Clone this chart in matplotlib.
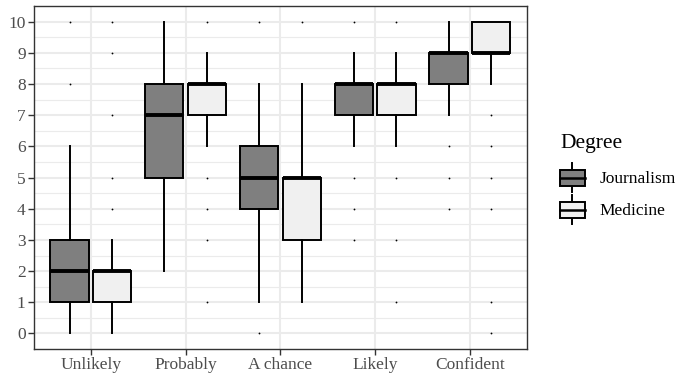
import matplotlib.pyplot as plt
import numpy as np
from matplotlib.legend_handler import HandlerBase
from matplotlib.lines import Line2D
from matplotlib.patches import Patch, Rectangle

# Data (five-number summaries + outliers)
categories = ["Unlikely", "Probably", "A chance", "Likely", "Confident"]
groups = ["Journalism", "Medicine"]

journ_lo = [0, 2, 1, 6, 7]
journ_q1 = [1, 5, 4, 7, 8]
journ_med = [2, 7, 5, 8, 9]
journ_q3 = [3, 8, 6, 8, 9]
journ_hi = [6, 10, 8, 9, 10]
journ_out = [[8, 10], [], [0, 10], [3, 4, 5, 10], [4, 5, 6]]

med_lo = [0, 6, 1, 6, 8]
med_q1 = [1, 7, 3, 7, 9]
med_med = [2, 8, 5, 8, 9]
med_q3 = [2, 8, 5, 8, 10]
med_hi = [3, 9, 8, 9, 10]
med_out = [[4, 5, 7, 9, 10], [1, 3, 4, 5, 10], [10], [1, 3, 5, 10], [0, 1, 4, 5, 6, 7]]

fills = ["#7f7f7f", "#f0f0f0"]

plt.rcParams["font.family"] = ["Liberation Serif", "DejaVu Serif"]


def make_stats(lo, q1, med, q3, hi, out):
    return [
        {"whislo": a, "q1": b, "med": c, "q3": d, "whishi": e, "fliers": f}
        for a, b, c, d, e, f in zip(lo, q1, med, q3, hi, out)
    ]


class BoxKeyHandler(HandlerBase):
    """Legend key that looks like a little ggplot boxplot."""

    def create_artists(self, legend, orig_handle, xdescent, ydescent,
                       width, height, fontsize, trans):
        x0, y0 = -xdescent, -ydescent
        bh = height * 0.56
        by = y0 + (height - bh) / 2
        cx = x0 + width / 2
        whisk = Line2D([cx, cx], [y0, y0 + height], color="black", lw=1.4,
                       transform=trans)
        rect = Rectangle((x0, by), width, bh, facecolor=orig_handle.get_facecolor(),
                         edgecolor="black", lw=1.4, transform=trans)
        mid = Line2D([x0, x0 + width], [by + bh / 2] * 2, color="black", lw=1.8,
                     transform=trans)
        return [whisk, rect, mid]


fig = plt.figure(figsize=(6.85, 3.84), dpi=100)
ax = fig.add_axes([0.0496, 0.091, 0.7194, 0.893])

x = np.arange(1, len(categories) + 1)
stats_all = [
    make_stats(journ_lo, journ_q1, journ_med, journ_q3, journ_hi, journ_out),
    make_stats(med_lo, med_q1, med_med, med_q3, med_hi, med_out),
]
offsets = [-0.225, 0.225]

for stats, off, fc in zip(stats_all, offsets, fills):
    ax.bxp(
        stats,
        positions=x + off,
        widths=0.405,
        showcaps=False,
        patch_artist=True,
        boxprops=dict(facecolor=fc, edgecolor="black", linewidth=1.4),
        whiskerprops=dict(color="black", linewidth=1.4),
        medianprops=dict(color="black", linewidth=2.8, solid_capstyle="butt"),
        flierprops=dict(marker="o", markersize=1.3, markerfacecolor="black",
                        markeredgecolor="black", markeredgewidth=0),
        zorder=3,
    )

# theme_bw-like styling
ax.set_xlim(0.4, 5.6)
ax.set_ylim(-0.5, 10.5)
ax.set_xticks(x)
ax.set_xticklabels(categories)
ax.set_yticks(range(0, 11))
ax.set_yticks(np.arange(0.5, 10.5, 1), minor=True)
ax.tick_params(axis="both", which="major", labelsize=12.5, labelcolor="#4d4d4d",
               color="#333333", length=4, width=1)
ax.tick_params(axis="y", which="minor", length=0)
ax.tick_params(axis="x", pad=2)
ax.tick_params(axis="y", pad=2)
ax.grid(True, which="major", color="#ebebeb", lw=1.5, zorder=0)
ax.grid(True, which="minor", axis="y", color="#ebebeb", lw=0.8, zorder=0)
ax.set_axisbelow(True)
for sp in ax.spines.values():
    sp.set_color("#333333")
    sp.set_linewidth(1.0)

handles = [Patch(facecolor=fc) for fc in fills]
leg = ax.legend(
    handles, groups,
    handler_map={Patch: BoxKeyHandler()},
    title="Degree",
    loc="center left",
    bbox_to_anchor=(1.054, 0.495),
    frameon=False,
    fontsize=12.5,
    title_fontsize=15.5,
    handlelength=1.4,
    handleheight=2.2,
    labelspacing=0.17,
    handletextpad=0.85,
    borderaxespad=0,
)
leg._legend_box.align = "left"
leg._legend_box.sep = 7

fig.savefig("out.png", dpi=100)
